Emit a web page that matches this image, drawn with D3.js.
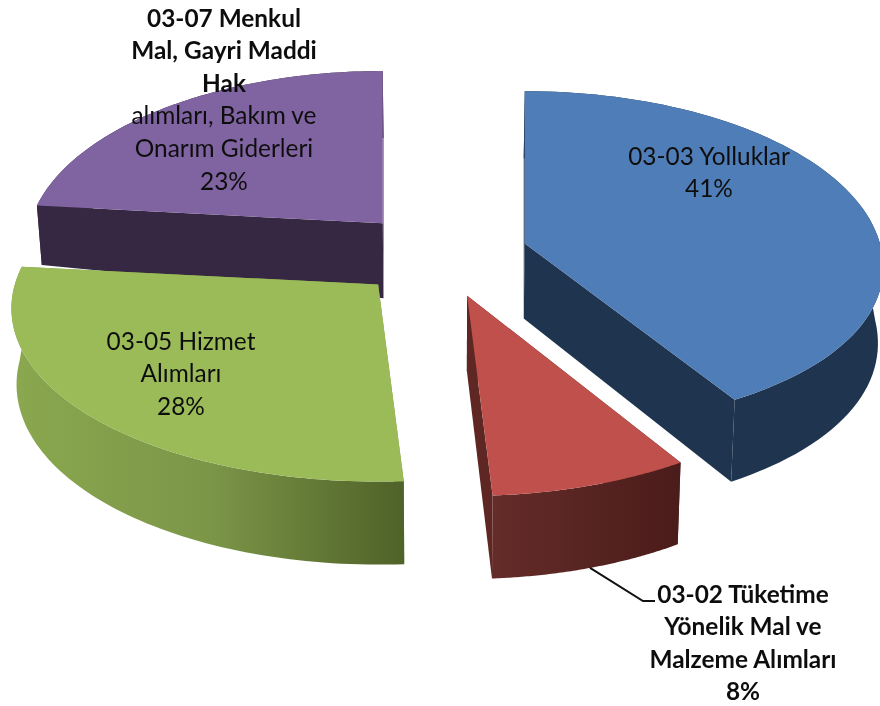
<!DOCTYPE html>
<html><head><meta charset="utf-8">
<script src="https://cdn.jsdelivr.net/npm/d3@7"></script>
<style>html,body{margin:0;padding:0;background:#fff;overflow:hidden}svg{display:block}
text{font-family:Lato,"Open Sans",sans-serif;font-size:24.4px;fill:#111;text-anchor:middle;dominant-baseline:central}</style>
</head><body><svg id="c" width="880" height="706"></svg>
<script>
// data
const categories = ["03-03 Yolluklar","03-02 Tüketime Yönelik Mal ve Malzeme Alımları","03-05 Hizmet Alımları","03-07 Menkul Mal, Gayri Maddi Hak alımları, Bakım ve Onarım Giderleri"];
const values = [41.25,7.78,27.63,23.34];
const labelLines = [
  ["03-03 Yolluklar","41%"],
  ["03-02 Tüketime","Yönelik Mal ve","Malzeme Alımları","8%"],
  ["03-05 Hizmet","Alımları","28%"],
  ["03-07 Menkul","Mal, Gayri Maddi","Hak","alımları, Bakım ve","Onarım Giderleri","23%"]
];
const boldLineCounts = [0,4,0,3];
const faceColors = ["#4f7db8","#bf504c","#9bbb59","#8063a1"];
const wallColors = ["#1f344f","#5e2724","#7c9648","#362742"];
const rimStops = [
  [["#1f344f",0],["#1f344f",1]],
  [["#652c29",0],["#4a1c1a",1]],
  [["#8aa84f",0],["#7c9648",.5],["#4f6228",1]],
  [["#362742",0],["#362742",1]]
];
const drawOrder = [3,0,2,1];
// layout
const CX=441,CY=255,EXPLODE=87,TILT=.49,RX=358,RY=173,PERSP=.136;
const labelX=[709,743,181,224], labelY=[155,593,340,17], lineGap=32.6;
const svg=d3.select("#c");
const defs=svg.append("defs");
const blur=defs.append("filter").attr("id","soft");
blur.append("feGaussianBlur").attr("stdDeviation",.45);
const pie=d3.pie().sort(null).value(d=>d).startAngle(0).endAngle(2*Math.PI);
const arcs=pie(values);
const midOf=a=>(a.startAngle+a.endAngle)/2;
const apexOf=a=>{const m=midOf(a);return [CX+EXPLODE*Math.sin(m),CY-EXPLODE*TILT*Math.cos(m)];};
const depthAt=(X,Y)=>75+8*Y-15*Math.max(0,Math.abs(X)-.6)/.4*Math.min(1,Math.max(0,-Y*10));
function rimPoint(a,ang){
  const [ax,ay]=apexOf(a),X=Math.sin(ang),Y=-Math.cos(ang),w=1-PERSP*Y,m=midOf(a),yc=-Math.cos(m);
  const sx=1+.03*yc*Math.abs(Math.sin(m)), sy=Y>0?1+.06*(yc-.95)*Y:1;
  return [ax+RX*sx*X/w,ay+RY*sy*Y/w,X,Y];
}
const drop=(p,X,Y)=>[p[0]-.012*(p[0]-CX),p[1]+depthAt(X,Y)];
const line=d3.line();
function sample(a){return d3.range(0,81).map(i=>a.startAngle+(a.endAngle-a.startAngle)*i/80);}
drawOrder.forEach(i=>{
  const a=arcs[i],apex=apexOf(a),g=svg.append("g");
  const angs=sample(a),tops=angs.map(t=>rimPoint(a,t));
  const bots=tops.map(p=>drop(p,p[2],p[3]));
  const apexB=drop(apex,0,0);
  const id="rim"+i,grad=defs.append("linearGradient").attr("id",id).attr("gradientUnits","userSpaceOnUse");
  const ext=d3.extent(tops,p=>p[0]);
  grad.attr("x1",ext[0]).attr("x2",ext[1]).attr("y1",0).attr("y2",0);
  rimStops[i].forEach(s=>grad.append("stop").attr("offset",s[1]).attr("stop-color",s[0]));
  // cut walls
  [0,tops.length-1].forEach(k=>{
    g.append("path").attr("d",line([apex,tops[k],bots[k],apexB])+"Z").attr("fill",wallColors[i]);
  });
  // rim
  g.append("path").attr("d",line(tops.concat(bots.slice().reverse()))+"Z").attr("fill",`url(#${id})`);
  // top face
  g.append("path").attr("d",line([apex].concat(tops))+"Z").attr("fill",faceColors[i]);
});
// leader
{
  const a=arcs[1],p=rimPoint(a,midOf(a)),s=drop(p,p[2],p[3]);
  const ly=labelY[1]+8;
  svg.append("path").attr("d",line([s,[labelX[1]-100,ly],[labelX[1]-88,ly]])).attr("fill","none").attr("stroke","#111").attr("stroke-width",2);
}
// labels
labelLines.forEach((ls,i)=>{
  const t=svg.append("g").attr("filter","url(#soft)");
  ls.forEach((s,k)=>t.append("text").attr("x",labelX[i]).attr("y",labelY[i]+k*lineGap)
    .attr("font-weight",k<boldLineCounts[i]?700:400).text(s));
});
</script></body></html>
